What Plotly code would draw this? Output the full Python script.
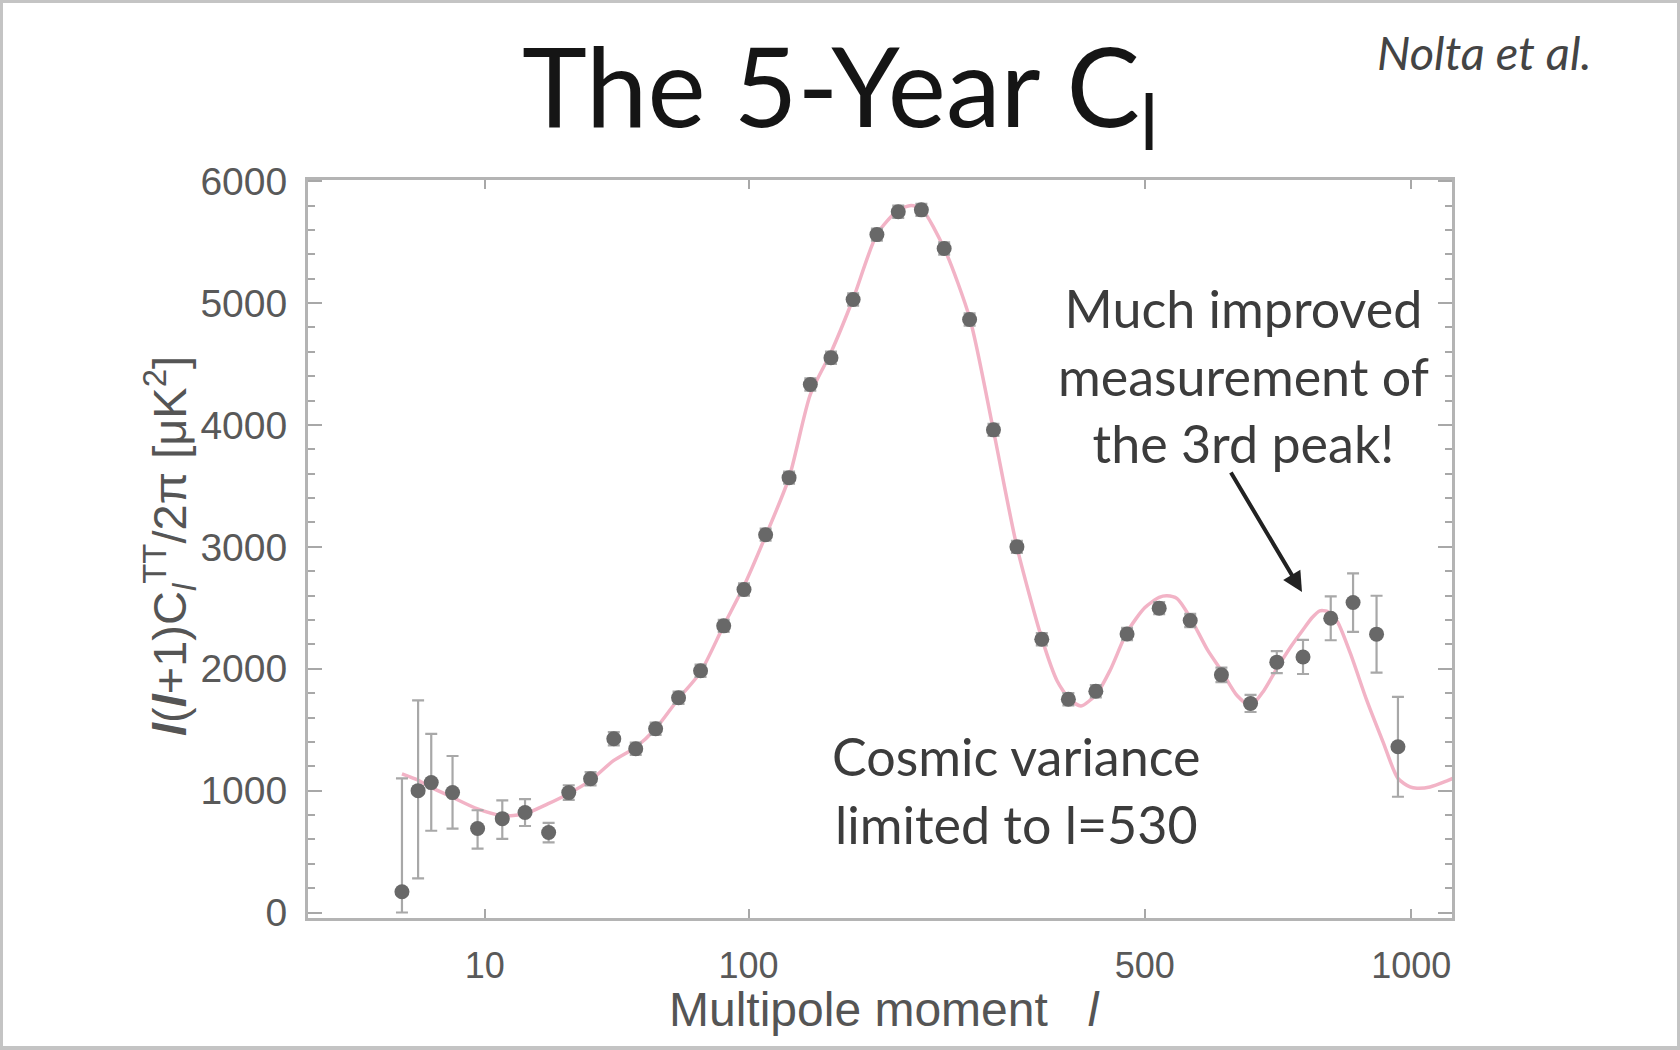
import numpy as np
import plotly.graph_objects as go

# ---------------- data ----------------
ell_data = [2, 3, 4, 6, 9, 12.7, 16.8, 21.8, 26.7, 32.7, 39.9, 47.5, 55.1, 64.7, 74.8, 86.4,
            97.4, 110, 124.7, 139, 153.8, 170.7, 190, 208.4, 229.5, 251.5, 277.5, 303.3, 330,
            359.8, 393.4, 430, 474, 522, 571, 623, 674, 722, 772, 827, 873, 923, 970]
D_data = [170, 1000, 1066, 984, 689, 770, 820, 656, 984, 1098, 1426, 1344, 1508, 1762, 1984, 2352,
          2650, 3100, 3568, 4332, 4552, 5030, 5562, 5750, 5765, 5448, 4866, 3960, 3000,
          2242, 1750, 1815, 2285, 2497, 2396, 1950, 1715, 2054, 2097, 2414, 2543, 2284, 1360]
err_plus = [930, 740, 400, 300, 150, 150, 110, 80, 60, 55, 55, 50, 50, 50, 50, 50,
            50, 50, 50, 50, 50, 50, 50, 50, 50, 50, 50, 50, 50,
            50, 50, 50, 50, 50, 55, 60, 70, 90, 140, 180, 240, 315, 410]
err_minus = [170, 720, 395, 295, 165, 165, 110, 80, 60, 55, 55, 50, 50, 50, 50, 50,
             50, 50, 50, 50, 50, 50, 50, 50, 50, 50, 50, 50, 50,
             50, 50, 50, 50, 50, 55, 60, 70, 90, 140, 180, 240, 315, 410]

ell_theory = [2, 3, 4, 6, 9, 12.7, 16.7, 21.6, 26.5, 32.6, 39.8, 47.4, 55, 64.6, 74.7, 86.3,
              97.4, 110, 124.7, 139, 154, 171, 190, 208, 220, 230, 252, 278, 303, 330, 360,
              379, 395, 410, 431, 450, 474, 500, 522, 534, 550, 571, 600, 623, 650, 674, 698,
              722, 750, 772, 790, 805, 820, 840, 867, 902, 937, 970, 997, 1013, 1043, 1083, 1100]
D_theory = [1137, 1085, 1027, 945, 850, 795, 809, 891, 973, 1082, 1246, 1355, 1506, 1752, 1970, 2352,
            2680, 3090, 3568, 4250, 4600, 5044, 5563, 5760, 5800, 5770, 5440, 4866, 3965, 3000, 2245,
            1900, 1750, 1695, 1793, 1990, 2300, 2500, 2585, 2598, 2575, 2420, 2150, 1984, 1780, 1697, 1820,
            2000, 2190, 2320, 2420, 2475, 2470, 2390, 2130, 1740, 1400, 1100, 1030, 1020, 1030, 1080, 1105]

x_tick_vals = [10, 100, 500, 1000]
x_tick_text = ["10", "100", "500", "1000"]

POW = 0.4  # the axis is linear in l^0.4


def tr(v):
    return np.power(np.asarray(v, dtype=float), POW)


# ---------------- layout geometry (pixels) ----------------
W, H = 1680, 1050
L, R, T, B = 308, 1452, 180, 918
PW, PH = R - L, B - T


def px(x):
    return (x - L) / PW


def py(y):
    return (B - y) / PH


fig = go.Figure()

fig.add_trace(go.Scatter(
    x=tr(ell_theory), y=D_theory, mode="lines",
    line=dict(color="#f2b3c6", width=3.5, shape="spline", smoothing=0.7),
    hoverinfo="skip", showlegend=False))

fig.add_trace(go.Scatter(
    x=tr(ell_data), y=D_data, mode="markers",
    marker=dict(color="#686868", size=15, symbol="circle"),
    error_y=dict(type="data", symmetric=False, array=err_plus, arrayminus=err_minus,
                 color="#a8a8a8", thickness=2.2, width=6),
    showlegend=False))

axis_common = dict(showline=True, linecolor="#b4b4b4", linewidth=3, mirror="ticks",
                   ticks="inside", tickcolor="#a8a8a8", tickwidth=2, showgrid=False,
                   zeroline=False)

fig.update_xaxes(range=[-0.033, 16.435], tickvals=list(tr(x_tick_vals)), ticktext=x_tick_text,
                 ticklen=9, ticklabelstandoff=14,
                 tickfont=dict(family="Liberation Sans", size=36, color="#595959"),
                 **axis_common)
fig.update_yaxes(range=[-45, 6010], tick0=0, dtick=1000, ticklen=14, ticklabelstandoff=10,
                 tickfont=dict(family="Liberation Sans", size=39, color="#595959"),
                 minor=dict(dtick=200, ticklen=7, tickcolor="#a8a8a8", tickwidth=2, ticks="inside"),
                 **axis_common)

ann = []
ann.append(dict(x=px(840), y=py(92), xref="paper", yref="paper", showarrow=False,
                text="The 5-Year C<sub>l</sub>", xanchor="center", yanchor="middle",
                font=dict(family="Lato", size=110, color="#151515")))
ann.append(dict(x=px(1484), y=py(52), xref="paper", yref="paper", showarrow=False,
                text="<i>Nolta et al.</i>", xanchor="center", yanchor="middle",
                font=dict(family="Lato", size=47, color="#444444")))
ann.append(dict(x=px(1243), y=py(375), xref="paper", yref="paper", showarrow=False,
                text="Much improved<br>measurement of<br>the 3rd peak!", align="center",
                xanchor="center", yanchor="middle",
                font=dict(family="Lato", size=52, color="#3c3c3c")))
ann.append(dict(x=px(1016), y=py(790), xref="paper", yref="paper", showarrow=False,
                text="Cosmic variance<br>limited to l=530", align="center",
                xanchor="center", yanchor="middle",
                font=dict(family="Lato", size=52, color="#3c3c3c")))
ann.append(dict(x=px(1302), y=py(592), xref="paper", yref="paper", showarrow=True,
                text="", ax=-72, ay=-121, arrowhead=2, arrowsize=1, arrowwidth=4,
                arrowcolor="#222222"))
ann.append(dict(x=px(884), y=py(1009), xref="paper", yref="paper", showarrow=False,
                text="Multipole moment   <i>l</i>", xanchor="center", yanchor="middle",
                font=dict(family="Liberation Sans", size=48, color="#555555")))
ann.append(dict(x=px(169), y=py(546), xref="paper", yref="paper", showarrow=False,
                text="<b><i>l</i></b>(<b><i>l</i></b>+1)C<sub><i>l</i></sub><sup>TT</sup>/2π [μK<sup>2</sup>]",
                textangle=-90, xanchor="center", yanchor="middle",
                font=dict(family="Liberation Sans", size=47, color="#555555")))

fig.update_layout(
    width=W, height=H,
    margin=dict(l=L, r=W - R, t=T, b=H - B, autoexpand=False),
    paper_bgcolor="white", plot_bgcolor="white",
    annotations=ann,
    shapes=[dict(type="rect", xref="paper", yref="paper",
                 x0=px(1), x1=px(W - 1), y0=py(H - 2), y1=py(1),
                 line=dict(color="#c4c4c4", width=4), layer="below")],
)

fig.write_html("out.html", config={"displayModeBar": False})
